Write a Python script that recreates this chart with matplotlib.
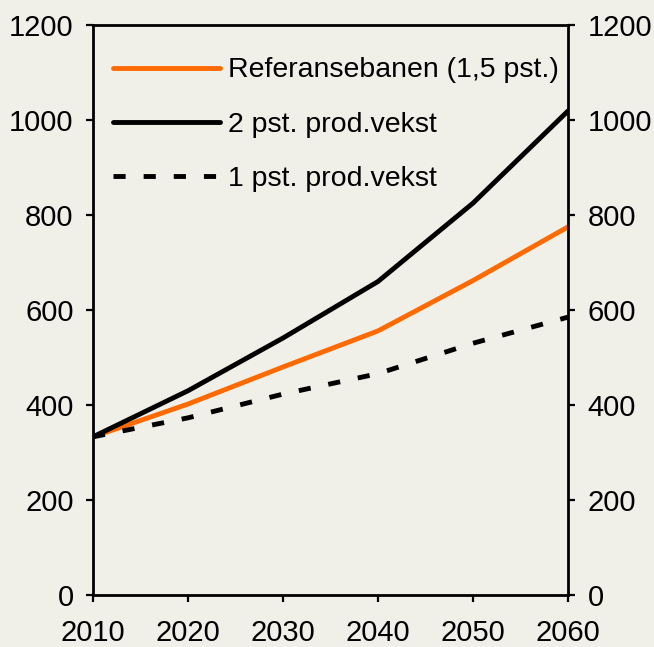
import matplotlib
matplotlib.use("Agg")
import matplotlib.pyplot as plt

years = [2010, 2020, 2030, 2040, 2050, 2060]
ref = [333, 402, 480, 556, 662, 775]
high = [333, 430, 541, 660, 825, 1019]
low = [333, 373, 423, 466, 530, 585]
labels = ["Referansebanen (1,5 pst.)", "2 pst. prod.vekst", "1 pst. prod.vekst"]
yticks = [0, 200, 400, 600, 800, 1000, 1200]

bg = "#F0EFE8"
plt.rcParams['font.family'] = ['Liberation Sans', 'DejaVu Sans']
fig = plt.figure(figsize=(6.54, 6.47), dpi=100, facecolor=bg)
ax = fig.add_axes([93/654, 1-595/647, (568-93)/654, (595-25)/647])
ax.set_facecolor(bg)

ax.plot(years, ref, color="#FF6A00", lw=3.5, label=labels[0], solid_capstyle='round')
ax.plot(years, high, color="black", lw=3.5, label=labels[1], solid_capstyle='round')
ax.plot(years, low, color="black", lw=3.5, label=labels[2], dashes=(2.5, 3.7))

ax.set_xlim(2010, 2060)
ax.set_ylim(0, 1200)
ax.set_xticks(years)
ax.set_yticks(yticks)
for s in ax.spines.values():
    s.set_linewidth(2)
ax.tick_params(axis='both', direction='out', length=5, width=1.6, labelsize=21, colors='black')
ax.tick_params(axis='y', right=True, labelright=True, pad=9)
ax.tick_params(axis='x', pad=12.5)

leg = ax.legend(loc='upper left', bbox_to_anchor=(0.042, 0.943), frameon=False,
                fontsize=20.5, handlelength=3.75, handletextpad=0.3, labelspacing=1.0,
                borderpad=0, borderaxespad=0)

fig.savefig("out.png", dpi=100, facecolor=bg)
